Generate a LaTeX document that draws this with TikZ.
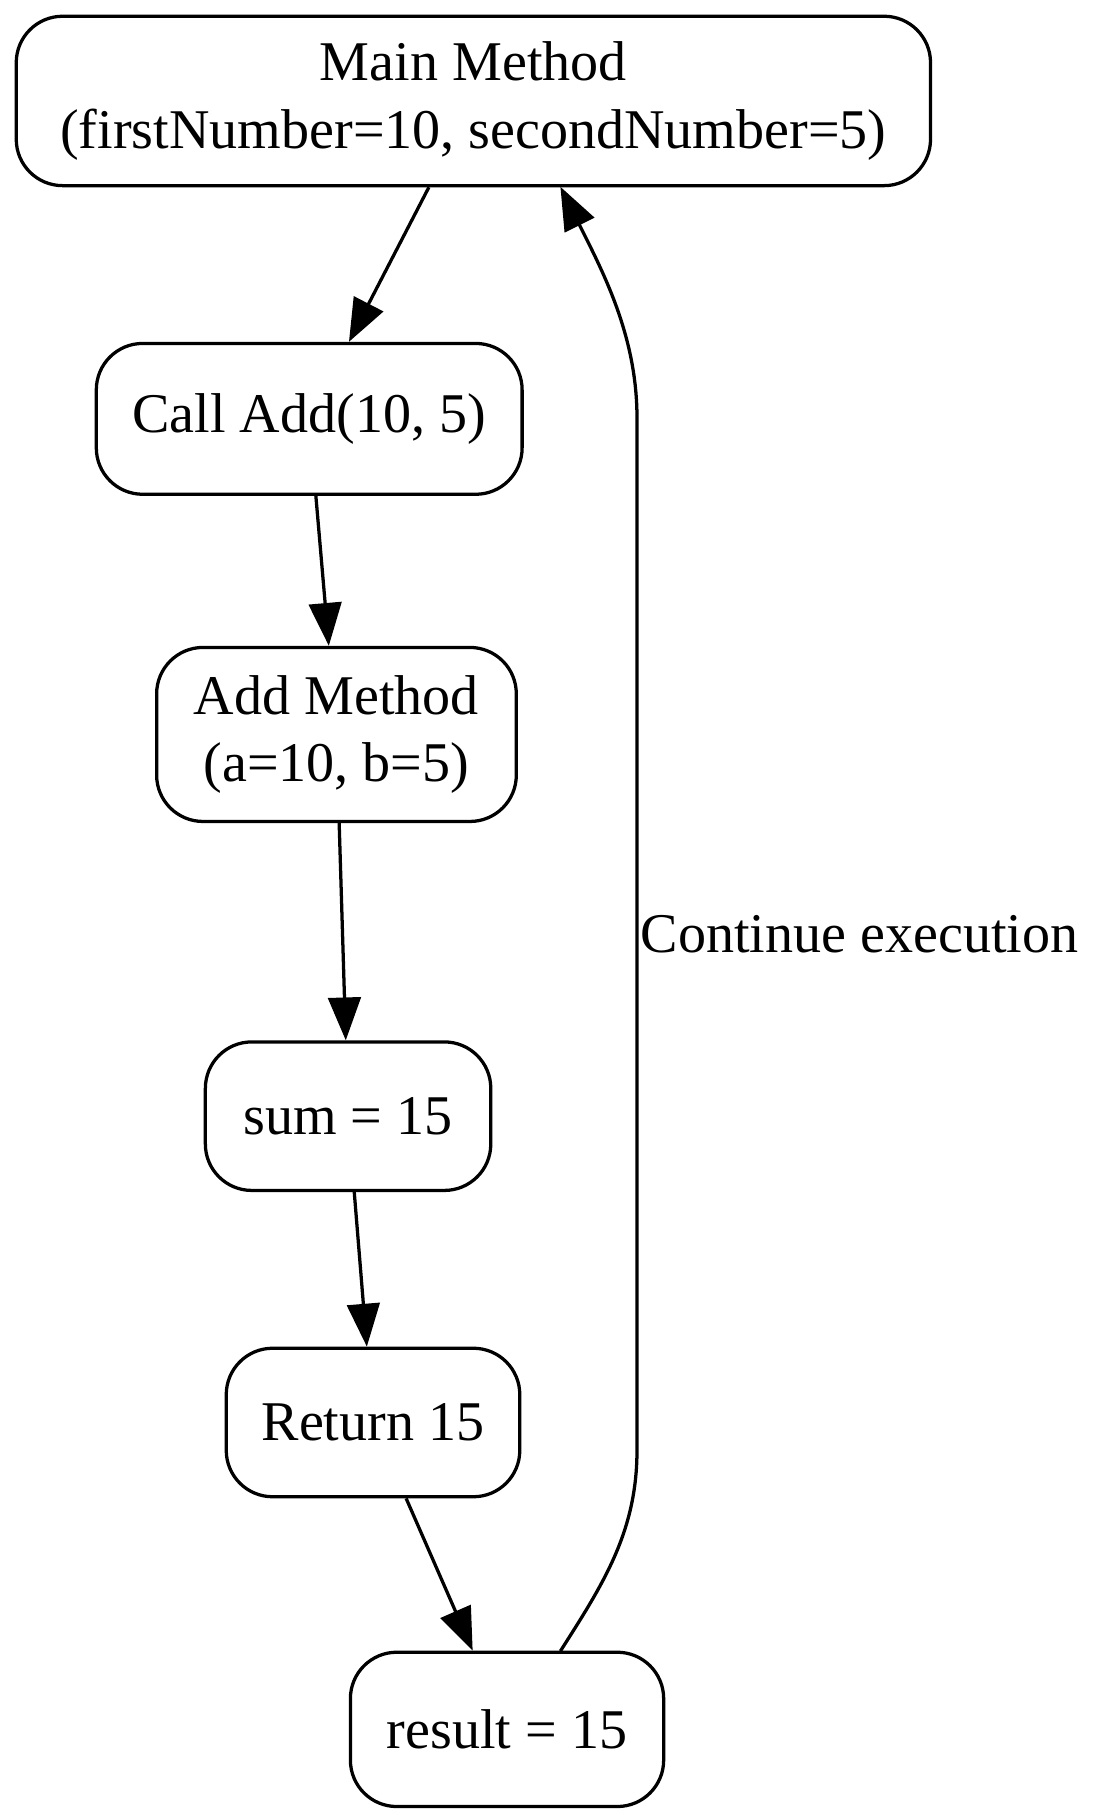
\documentclass[tikz,border=0pt]{standalone}
\usepackage{fontspec}
\setmainfont{Liberation Serif}
\usetikzlibrary{arrows.meta}
\tikzset{
	box/.style={draw,line width=1.6pt,rounded corners=0.8cm,align=center,inner sep=0pt},
	flow/.style={line width=1.6pt,-{Triangle[length=21pt,width=16pt]}}
}
\begin{document}
\begin{tikzpicture}[font=\fontsize{27.5}{33}\selectfont]
		\useasboundingbox (0,0) rectangle (18.9,-31.2);
		\node (main) [box,minimum width=15.76cm,minimum height=2.92cm] at (8.16,-1.74) {Main Method\\(firstNumber=10, secondNumber=5)};
		\node (call) [box,minimum width=7.34cm,minimum height=2.6cm] at (5.33,-7.22) {Call Add(10, 5)};
		\node (add) [box,minimum width=6.2cm,minimum height=3.0cm] at (5.8,-12.66) {Add Method\\(a=10, b=5)};
		\node (sum) [box,minimum width=4.92cm,minimum height=2.56cm] at (6.0,-19.24) {sum = 15};
		\node (ret) [box,minimum width=5.06cm,minimum height=2.56cm] at (6.43,-24.52) {Return 15};
		\node (result) [box,minimum width=5.4cm,minimum height=2.66cm] at (8.74,-29.81) {result = 15};
		\coordinate (bot) at (9.66,-28.46);
		\coordinate (top) at (9.66,-3.22);
		\draw[flow] (main) -- (call);
		\draw[flow] (call) -- (add);
		\draw[flow] (add) -- (sum);
		\draw[flow] (sum) -- (ret);
		\draw[flow] (ret) -- (result);
		\draw[flow] (bot) .. controls (10.4,-27.3) and (10.98,-26.4) .. (10.98,-25.0) -- (10.98,-7.2) .. controls (10.98,-5.8) and (10.4,-4.7) .. (top);
		\node (lbl) [anchor=west,inner sep=0pt] at (11.04,-16.1) {Continue execution};
	\end{tikzpicture}
\end{document}
